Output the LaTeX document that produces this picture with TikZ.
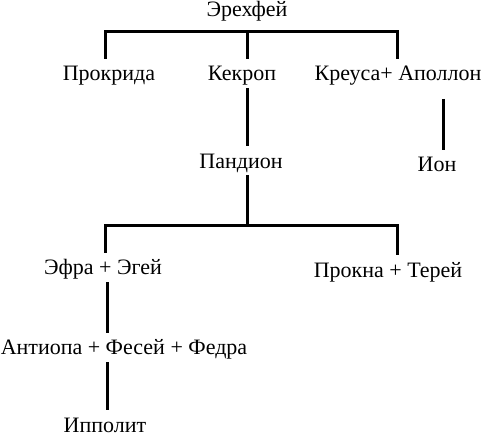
\documentclass[tikz,border=0pt]{standalone}
\usepackage{fontspec}
\setmainfont{Liberation Serif}
\usetikzlibrary{positioning}
\tikzset{
  link/.style={line width=3pt, line cap=butt, line join=miter},
  person/.style={inner sep=0pt, outer xsep=0pt, outer ysep=7pt,
    text height=15pt, text depth=0pt, anchor=base,
    font=\fontsize{22}{26}\selectfont},
}
\begin{document}
\begin{tikzpicture}[x=1pt, y=-1pt]
    \useasboundingbox (0,0) rectangle (483,436);

    \node[person] (erechthey) at (247,17)  {Эрехфей};
    \node[person] (prokrida)  at (109,81)  {Прокрида};
    \node[person] (kekrop)    at (242,81)  {Кекроп};
    \node[person] (kreusa)    at (398,81)  {Креуса+ Аполлон};
    \node[person] (pandion)   at (241,168) {Пандион};
    \node[person] (ion)       at (437,172) {Ион};
    \node[person] (efra)      at (103,275) {Эфра + Эгей};
    \node[person] (prokna)    at (388,277) {Прокна + Терей};
    \node[person] (antiopa)   at (124,355) {Антиопа + Фесей + Федра};
    \node[person] (ippolit)   at (105,432) {Ипполит};

    % first generation
    \coordinate (bar1l) at (105,32);
    \coordinate (bar1m) at (247,32);
    \coordinate (bar1r) at (397,32);
    \draw[link] (prokrida.north -| bar1l) -- (bar1l) -- (bar1r) -- (kreusa.north -| bar1r);
    \draw[link] (bar1m) -- (kekrop.north -| bar1m);
    \draw[link] (kekrop.south -| bar1m) -- (pandion.north -| bar1m);

    \coordinate (ionline) at (443,0);
    \draw[link, shorten <=11pt] (kreusa.south -| ionline) -- (ion.north -| ionline);

    % children of Pandion
    \coordinate (bar2l) at (105,226);
    \coordinate (bar2m) at (247,226);
    \coordinate (bar2r) at (397,226);
    \draw[link] (pandion.south -| bar2m) -- (bar2m);
    \draw[link] (efra.north -| bar2l) -- (bar2l) -- (bar2r) -- (prokna.north -| bar2r);

    \coordinate (efraline) at (107,0);
    \draw[link] (efra.south -| efraline) -- (antiopa.north -| efraline);
    \draw[link] (antiopa.south -| efraline) -- (ippolit.north -| efraline);
\end{tikzpicture}
\end{document}
